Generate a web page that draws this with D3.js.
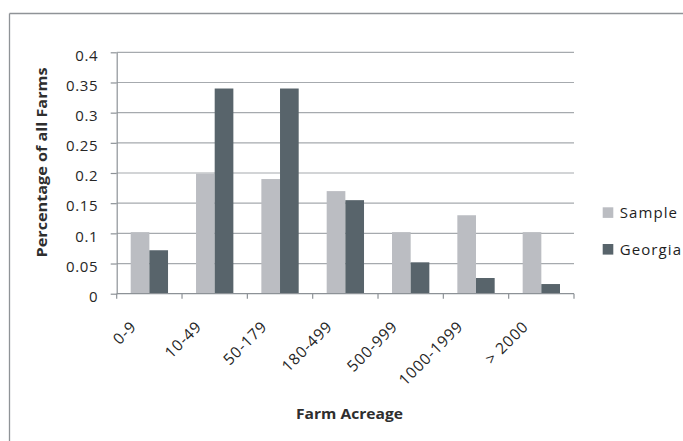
<!DOCTYPE html>
<html>
<head>
<meta charset="utf-8">
<script src="https://cdn.jsdelivr.net/npm/d3@7"></script>
<style>
  html, body { margin: 0; padding: 0; background: #fff; }
  svg { display: block; }
  text { font-family: "Open Sans", "Liberation Sans", sans-serif; }
</style>
</head>
<body>
<svg id="chart" width="683" height="441"></svg>
<script>
// ---- data ----
const categories = ["0-9", "10-49", "50-179", "180-499", "500-999", "1000-1999", "> 2000"];
const seriesNames = ["Sample", "Georgia"];
const sampleValues = [0.102, 0.199, 0.19, 0.17, 0.102, 0.13, 0.102];
const georgiaValues = [0.072, 0.34, 0.34, 0.155, 0.052, 0.026, 0.016];
const yTicks = [0, 0.05, 0.1, 0.15, 0.2, 0.25, 0.3, 0.35, 0.4];
const yTickLabels = ["0", "0.05", "0.1", "0.15", "0.2", "0.25", "0.3", "0.35", "0.4"];
const xTitle = "Farm Acreage";
const yTitle = "Percentage of all Farms";

// ---- styles ----
const colors = { Sample: "#bbbdc2", Georgia: "#58646b" };
const gridColor = "#a6aaae";
const axisColor = "#8d9297";
const textColor = "#262626";

const svg = d3.select("#chart");
const plot = { left: 116.7, right: 574, top: 52.3, bottom: 293.7 };

// outer chart border (top and left visible)
svg.append("line").attr("x1", 9.5).attr("x2", 683).attr("y1", 13.5).attr("y2", 13.5)
  .attr("stroke", "#8f9397").attr("stroke-width", 1.3);
svg.append("line").attr("x1", 9.5).attr("x2", 9.5).attr("y1", 13.5).attr("y2", 441)
  .attr("stroke", "#8f9397").attr("stroke-width", 1.3);

const x0 = d3.scaleBand().domain(categories).range([plot.left, plot.right]).padding(0);
const W = x0.bandwidth();
const barW = W / 3.5;
const x1 = d3.scaleBand().domain(seriesNames).range([0.75 * barW, W - 0.75 * barW]).padding(0);
const y = d3.scaleLinear().domain([0, 0.4]).range([plot.bottom, plot.top]);

// gridlines
svg.append("g").selectAll("line").data(yTicks.filter(d => d > 0)).join("line")
  .attr("x1", plot.left).attr("x2", plot.right)
  .attr("y1", d => y(d)).attr("y2", d => y(d))
  .attr("stroke", gridColor).attr("stroke-width", 1.2);

// bars
const data = categories.map((c, i) => ({ cat: c, vals: [
  { s: "Sample", v: sampleValues[i] },
  { s: "Georgia", v: georgiaValues[i] }
]}));
const groups = svg.append("g").selectAll("g").data(data).join("g")
  .attr("transform", d => `translate(${x0(d.cat)},0)`);
groups.selectAll("rect").data(d => d.vals).join("rect")
  .attr("x", d => x1(d.s)).attr("width", x1.bandwidth())
  .attr("y", d => y(d.v)).attr("height", d => y(0) - y(d.v))
  .attr("fill", d => colors[d.s]);

// y axis
const yAxis = d3.axisLeft(y).tickValues(yTicks)
  .tickFormat((d, i) => yTickLabels[i]).tickSizeInner(6).tickSizeOuter(0).tickPadding(12.5);
const gy = svg.append("g").attr("transform", `translate(${plot.left},0)`).call(yAxis);
gy.select(".domain").attr("stroke", axisColor).attr("stroke-width", 1.2);
gy.selectAll(".tick line").attr("stroke", axisColor).attr("stroke-width", 1.2);
gy.selectAll(".tick text").attr("fill", textColor).attr("font-size", 15)
  .attr("letter-spacing", 0.6).attr("dy", "0.52em")
  .attr("font-family", "'Open Sans', sans-serif");

// x axis (ticks between categories)
const xBounds = categories.map(c => x0(c)).concat([plot.right]);
svg.append("line").attr("x1", plot.left).attr("x2", plot.right)
  .attr("y1", y(0)).attr("y2", y(0)).attr("stroke", axisColor).attr("stroke-width", 1.2);
svg.append("g").selectAll("line").data(xBounds).join("line")
  .attr("x1", d => d).attr("x2", d => d)
  .attr("y1", y(0)).attr("y2", y(0) + 5)
  .attr("stroke", axisColor).attr("stroke-width", 1.2);

// x labels rotated
svg.append("g").selectAll("text").data(categories).join("text")
  .attr("transform", d => `translate(${x0(d) + W / 2 - 12},${y(0) + 34}) rotate(-45)`)
  .attr("text-anchor", "end")
  .attr("font-size", 15.5).attr("letter-spacing", 0.8)
  .attr("fill", textColor)
  .text(d => d);

// axis titles
svg.append("text").attr("x", 349.5).attr("y", 419)
  .attr("text-anchor", "middle").attr("font-size", 15).attr("font-weight", "bold")
  .attr("fill", "#2e2e2e").attr("textLength", 107).attr("lengthAdjust", "spacingAndGlyphs")
  .text(xTitle);
svg.append("text").attr("transform", "translate(46.5,162.5) rotate(-90)")
  .attr("text-anchor", "middle").attr("font-size", 15).attr("font-weight", "bold")
  .attr("fill", "#2e2e2e").attr("textLength", 190).attr("lengthAdjust", "spacingAndGlyphs")
  .text(yTitle);

// legend
const legend = svg.append("g").selectAll("g").data(seriesNames).join("g")
  .attr("transform", (d, i) => `translate(602.7,${207.3 + i * 36.7})`);
legend.append("rect").attr("width", 10.6).attr("height", 10.6).attr("fill", d => colors[d]);
legend.append("text").attr("x", 17).attr("y", 11)
  .attr("font-size", 15).attr("letter-spacing", 1.1).attr("fill", "#1e1e1e")
  .text(d => d);
</script>
</body>
</html>
